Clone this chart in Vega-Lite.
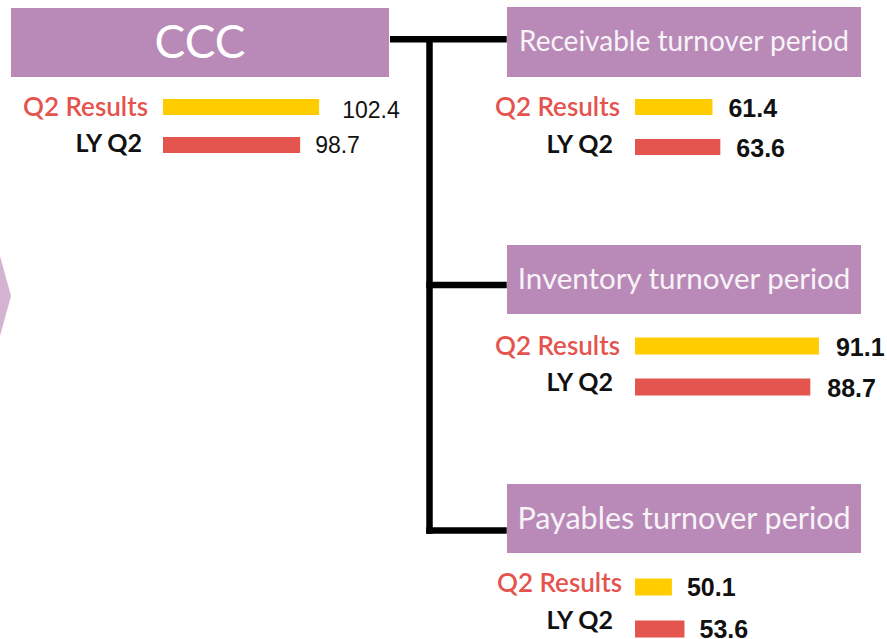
{
  "$schema": "https://vega.github.io/schema/vega-lite/v6.json",
  "padding": {"left": 0, "top": 7, "right": 0, "bottom": 0},
  "background": "white",
  "bounds": "flush",
  "spacing": 496,
  "config": {"view": {"stroke": null}},
  "datasets": {
    "bars": [
      {"metric": "CCC", "series": "Q2 Results", "value": 102.4},
      {"metric": "CCC", "series": "LY Q2", "value": 98.7},
      {"metric": "Receivable turnover period", "series": "Q2 Results", "value": 61.4},
      {"metric": "Receivable turnover period", "series": "LY Q2", "value": 63.6},
      {"metric": "Inventory turnover period", "series": "Q2 Results", "value": 91.1},
      {"metric": "Inventory turnover period", "series": "LY Q2", "value": 88.7},
      {"metric": "Payables turnover period", "series": "Q2 Results", "value": 50.1},
      {"metric": "Payables turnover period", "series": "LY Q2", "value": 53.6}
    ]
  },
  "hconcat": [
    {
      "bounds": "flush",
      "spacing": 0,
      "vconcat": [
        {
          "width": 496, "height": 1,
          "data": {"name": "bars"},
          "transform": [{"filter": "datum.metric !== 'CCC' && datum.series === 'Q2 Results'"}],
          "encoding": {
            "y": {"field": "metric", "type": "nominal", "scale": {"type": "point", "domain": ["Receivable turnover period", "Inventory turnover period", "Payables turnover period"], "range": [32.3, 523.5], "padding": 0}, "axis": null}
          },
          "layer": [
            {
              "mark": {"type": "rule", "color": "#000000", "strokeWidth": 6.5, "strokeCap": "square"},
              "encoding": {"x": {"value": 418.5}, "x2": {"value": 492.5}}
            },
            {
              "transform": [{"filter": "datum.metric === 'Receivable turnover period'"}],
              "mark": {"type": "rule", "color": "#000000", "strokeWidth": 6.5},
              "encoding": {"x": {"value": 379}, "x2": {"value": 418.5}}
            },
            {
              "transform": [{"filter": "datum.metric === 'Receivable turnover period'"}],
              "mark": {"type": "rule", "color": "#000000", "strokeWidth": 6.5, "strokeCap": "square"},
              "encoding": {
                "x": {"value": 418.5},
                "y": {"datum": "Receivable turnover period"},
                "y2": {"datum": "Payables turnover period"}
              }
            },
            {
              "transform": [{"filter": "datum.metric === 'Receivable turnover period'"}],
              "mark": {"type": "point", "shape": "M-0.275,-1L0,0L-0.275,1Z", "filled": true, "size": 6400, "color": "#d4b2d2", "opacity": 1, "strokeWidth": 0},
              "encoding": {"x": {"value": 0}, "y": {"value": 289}}
            }
          ]
        },
        {
          "width": 378, "height": 69,
          "view": {"fill": "#b98ab8", "stroke": null},
          "data": {"name": "bars"},
          "transform": [{"filter": "datum.metric === 'CCC' && datum.series === 'Q2 Results'"}],
          "mark": {"type": "text", "font": "Lato", "fontSize": 46, "color": "#ffffff", "baseline": "alphabetic", "dy": 15.5},
          "encoding": {"text": {"field": "metric"}}
        },
        {
          "width": 378, "height": 168,
          "data": {"name": "bars"},
          "transform": [{"filter": "datum.metric === 'CCC'"}],
          "encoding": {
            "y": {"field": "series", "type": "nominal", "scale": {"type": "point", "domain": ["Q2 Results", "LY Q2"], "range": [30, 68], "padding": 0}, "axis": null}
          },
          "layer": [
            {
              "mark": {"type": "bar", "size": 16},
              "encoding": {
                "x": {"field": "value", "type": "quantitative", "scale": {"domain": [72, 116], "range": [152, 378], "zero": false, "nice": false}, "axis": null},
                "x2": {"datum": 72},
                "color": {"field": "series", "type": "nominal", "scale": {"domain": ["Q2 Results", "LY Q2"], "range": ["#ffcc00", "#e5554f"]}, "legend": null}
              }
            },
            {
              "transform": [{"filter": "datum.series === 'Q2 Results'"}],
              "mark": {"type": "text", "align": "left", "baseline": "middle", "dx": 23, "dy": 4, "font": "Liberation Sans", "fontSize": 23, "color": "#111111"},
              "encoding": {
                "x": {"field": "value", "type": "quantitative"},
                "text": {"field": "value", "type": "quantitative", "format": ".1f"}
              }
            },
            {
              "transform": [{"filter": "datum.series === 'LY Q2'"}],
              "mark": {"type": "text", "align": "left", "baseline": "middle", "dx": 15, "dy": 1, "font": "Liberation Sans", "fontSize": 23, "color": "#111111"},
              "encoding": {
                "x": {"field": "value", "type": "quantitative"},
                "text": {"field": "value", "type": "quantitative", "format": ".1f"}
              }
            },
            {
              "transform": [{"filter": "datum.series === 'Q2 Results'"}],
              "mark": {"type": "text", "align": "right", "baseline": "middle", "dx": -15, "dy": 1, "font": "Lato", "fontSize": 26, "fontWeight": 600, "color": "#e5534e"},
              "encoding": {"x": {"datum": 72}, "text": {"field": "series"}}
            },
            {
              "transform": [{"filter": "datum.series === 'LY Q2'"}],
              "mark": {"type": "text", "align": "right", "baseline": "middle", "dx": -21, "dy": -1, "font": "Lato", "fontSize": 25, "fontWeight": "bold", "color": "#111111"},
              "encoding": {"x": {"datum": 72}, "text": {"field": "series"}}
            }
          ]
        }
      ]
    },
    {
      "bounds": "flush",
      "spacing": 0,
      "vconcat": [
        {
          "width": 354, "height": 70,
          "view": {"fill": "#b98ab8", "stroke": null},
          "data": {"name": "bars"},
          "transform": [{"filter": "datum.metric === 'Receivable turnover period' && datum.series === 'Q2 Results'"}],
          "mark": {"type": "text", "font": "Lato", "fontSize": 28, "color": "#f7f3f7", "baseline": "alphabetic", "dy": 9},
          "encoding": {"text": {"field": "metric"}}
        },
        {
          "width": 354, "height": 168,
          "data": {"name": "bars"},
          "transform": [{"filter": "datum.metric === 'Receivable turnover period'"}],
          "encoding": {
            "y": {"field": "series", "type": "nominal", "scale": {"type": "point", "domain": ["Q2 Results", "LY Q2"], "range": [30, 70], "padding": 0}, "axis": null}
          },
          "layer": [
            {
              "mark": {"type": "bar", "size": 16},
              "encoding": {
                "x": {"field": "value", "type": "quantitative", "scale": {"domain": [39.8, 102.84], "range": [128, 354], "zero": false, "nice": false}, "axis": null},
                "x2": {"datum": 39.8},
                "color": {"field": "series", "type": "nominal", "scale": {"domain": ["Q2 Results", "LY Q2"], "range": ["#ffcc00", "#e5554f"]}, "legend": null}
              }
            },
            {
              "mark": {"type": "text", "align": "left", "baseline": "middle", "dx": 16, "dy": 2, "font": "Liberation Sans", "fontSize": 25, "fontWeight": "bold", "color": "#111111"},
              "encoding": {
                "x": {"field": "value", "type": "quantitative"},
                "text": {"field": "value", "type": "quantitative", "format": ".1f"}
              }
            },
            {
              "transform": [{"filter": "datum.series === 'Q2 Results'"}],
              "mark": {"type": "text", "align": "right", "baseline": "middle", "dx": -15, "dy": 1, "font": "Lato", "fontSize": 26, "fontWeight": 600, "color": "#e5534e"},
              "encoding": {"x": {"datum": 39.8}, "text": {"field": "series"}}
            },
            {
              "transform": [{"filter": "datum.series === 'LY Q2'"}],
              "mark": {"type": "text", "align": "right", "baseline": "middle", "dx": -22, "dy": -2, "font": "Lato", "fontSize": 25, "fontWeight": "bold", "color": "#111111"},
              "encoding": {"x": {"datum": 39.8}, "text": {"field": "series"}}
            }
          ]
        },
        {
          "width": 354, "height": 69,
          "view": {"fill": "#b98ab8", "stroke": null},
          "data": {"name": "bars"},
          "transform": [{"filter": "datum.metric === 'Inventory turnover period' && datum.series === 'Q2 Results'"}],
          "mark": {"type": "text", "font": "Lato", "fontSize": 29.5, "color": "#f7f3f7", "baseline": "alphabetic", "dy": 9.5},
          "encoding": {"text": {"field": "metric"}}
        },
        {
          "width": 354, "height": 170,
          "data": {"name": "bars"},
          "transform": [{"filter": "datum.metric === 'Inventory turnover period'"}],
          "encoding": {
            "y": {"field": "series", "type": "nominal", "scale": {"type": "point", "domain": ["Q2 Results", "LY Q2"], "range": [32, 73], "padding": 0}, "axis": null}
          },
          "layer": [
            {
              "mark": {"type": "bar", "size": 17},
              "encoding": {
                "x": {"field": "value", "type": "quantitative", "scale": {"domain": [39.8, 102.84], "range": [128, 354], "zero": false, "nice": false}, "axis": null},
                "x2": {"datum": 39.8},
                "color": {"field": "series", "type": "nominal", "scale": {"domain": ["Q2 Results", "LY Q2"], "range": ["#ffcc00", "#e5554f"]}, "legend": null}
              }
            },
            {
              "mark": {"type": "text", "align": "left", "baseline": "middle", "dx": 17, "dy": 2, "font": "Liberation Sans", "fontSize": 25, "fontWeight": "bold", "color": "#111111"},
              "encoding": {
                "x": {"field": "value", "type": "quantitative"},
                "text": {"field": "value", "type": "quantitative", "format": ".1f"}
              }
            },
            {
              "transform": [{"filter": "datum.series === 'Q2 Results'"}],
              "mark": {"type": "text", "align": "right", "baseline": "middle", "dx": -15, "dy": 1, "font": "Lato", "fontSize": 26, "fontWeight": 600, "color": "#e5534e"},
              "encoding": {"x": {"datum": 39.8}, "text": {"field": "series"}}
            },
            {
              "transform": [{"filter": "datum.series === 'LY Q2'"}],
              "mark": {"type": "text", "align": "right", "baseline": "middle", "dx": -22, "dy": -4, "font": "Lato", "fontSize": 25, "fontWeight": "bold", "color": "#111111"},
              "encoding": {"x": {"datum": 39.8}, "text": {"field": "series"}}
            }
          ]
        },
        {
          "width": 354, "height": 69,
          "view": {"fill": "#b98ab8", "stroke": null},
          "data": {"name": "bars"},
          "transform": [{"filter": "datum.metric === 'Payables turnover period' && datum.series === 'Q2 Results'"}],
          "mark": {"type": "text", "font": "Lato", "fontSize": 30.5, "color": "#f7f3f7", "baseline": "alphabetic", "dy": 10.5},
          "encoding": {"text": {"field": "metric"}}
        },
        {
          "width": 354, "height": 86,
          "data": {"name": "bars"},
          "transform": [{"filter": "datum.metric === 'Payables turnover period'"}],
          "encoding": {
            "y": {"field": "series", "type": "nominal", "scale": {"type": "point", "domain": ["Q2 Results", "LY Q2"], "range": [34, 76], "padding": 0}, "axis": null}
          },
          "layer": [
            {
              "mark": {"type": "bar", "size": 17},
              "encoding": {
                "x": {"field": "value", "type": "quantitative", "scale": {"domain": [39.8, 102.84], "range": [128, 354], "zero": false, "nice": false}, "axis": null},
                "x2": {"datum": 39.8},
                "color": {"field": "series", "type": "nominal", "scale": {"domain": ["Q2 Results", "LY Q2"], "range": ["#ffcc00", "#e5554f"]}, "legend": null}
              }
            },
            {
              "mark": {"type": "text", "align": "left", "baseline": "middle", "dx": 15, "dy": 1, "font": "Liberation Sans", "fontSize": 25, "fontWeight": "bold", "color": "#111111"},
              "encoding": {
                "x": {"field": "value", "type": "quantitative"},
                "text": {"field": "value", "type": "quantitative", "format": ".1f"}
              }
            },
            {
              "transform": [{"filter": "datum.series === 'Q2 Results'"}],
              "mark": {"type": "text", "align": "right", "baseline": "middle", "dx": -13, "dy": -3, "font": "Lato", "fontSize": 26, "fontWeight": 600, "color": "#e5534e"},
              "encoding": {"x": {"datum": 39.8}, "text": {"field": "series"}}
            },
            {
              "transform": [{"filter": "datum.series === 'LY Q2'"}],
              "mark": {"type": "text", "align": "right", "baseline": "middle", "dx": -22, "dy": -8, "font": "Lato", "fontSize": 25, "fontWeight": "bold", "color": "#111111"},
              "encoding": {"x": {"datum": 39.8}, "text": {"field": "series"}}
            }
          ]
        }
      ]
    }
  ]
}
